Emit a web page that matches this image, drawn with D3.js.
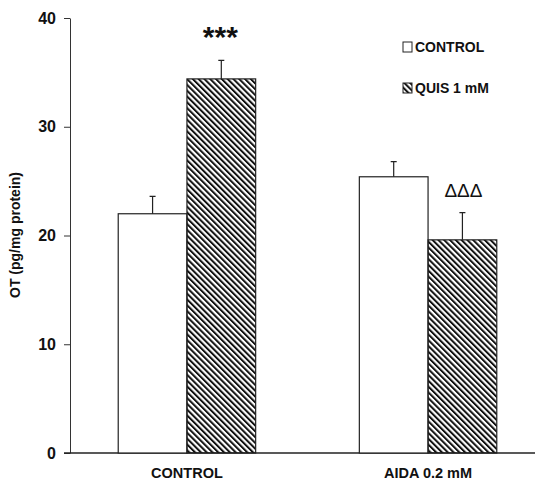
<!DOCTYPE html>
<html>
<head>
<meta charset="utf-8">
<script src="https://cdn.jsdelivr.net/npm/d3@7"></script>
<style>
  body { margin: 0; background: #fff; }
  svg { display: block; font-family: "Liberation Sans", Arial, sans-serif; }
</style>
</head>
<body>
<div id="chart"></div>
<script>
// data
const groups = ['CONTROL', 'AIDA 0.2 mM'];
const seriesNames = ['CONTROL', 'QUIS 1 mM'];
const controlValues = [22.0, 25.4];
const controlErrors = [1.6, 1.4];
const quisValues = [34.4, 19.6];
const quisErrors = [1.7, 2.5];
const yTicks = [0, 10, 20, 30, 40];
const signifMarks = ['***', 'ΔΔΔ'];

const width = 535, height = 482;
const svg = d3.select('#chart').append('svg')
  .attr('width', width)
  .attr('height', height);

// hatch pattern for QUIS bars (lines running top-left to bottom-right)
const defs = svg.append('defs');
defs.append('pattern')
  .attr('id', 'hatch')
  .attr('patternUnits', 'userSpaceOnUse')
  .attr('width', 4.1)
  .attr('height', 4.1)
  .attr('patternTransform', 'rotate(-45)')
  .append('rect')
  .attr('x', 0).attr('y', 0)
  .attr('width', 2).attr('height', 4.1)
  .attr('fill', '#111');

const y = d3.scaleLinear().domain([0, 40]).range([453, 18]);

const x0 = d3.scaleBand()
  .domain(groups)
  .range([70, 545])
  .paddingInner(0.43)
  .paddingOuter(0.2);

const x1 = d3.scaleBand()
  .domain(seriesNames)
  .range([0, x0.bandwidth()]);

const rows = groups.map((g, i) => ({
  group: g,
  bars: [
    { series: seriesNames[0], value: controlValues[i], err: controlErrors[i] },
    { series: seriesNames[1], value: quisValues[i], err: quisErrors[i] }
  ]
}));

// y axis
const yAxis = svg.append('g')
  .attr('transform', 'translate(70,0)')
  .call(d3.axisLeft(y).tickValues(yTicks).tickSize(6).tickSizeOuter(0).tickPadding(8));
yAxis.select('.domain').attr('stroke', '#333');
yAxis.selectAll('.tick line').attr('stroke', '#333');
yAxis.selectAll('.tick text')
  .attr('font-size', 16)
  .attr('font-weight', 'bold')
  .attr('fill', '#111');

// x axis line
svg.append('line')
  .attr('x1', 64).attr('x2', width)
  .attr('y1', y(0)).attr('y2', y(0))
  .attr('stroke', '#222')
  .attr('stroke-width', 1.5);

// bars
const g = svg.selectAll('.grp')
  .data(rows)
  .enter()
  .append('g')
  .attr('class', 'grp')
  .attr('transform', d => `translate(${x0(d.group)},0)`);

g.selectAll('rect')
  .data(d => d.bars)
  .enter()
  .append('rect')
  .attr('x', d => x1(d.series))
  .attr('y', d => y(d.value))
  .attr('width', x1.bandwidth())
  .attr('height', d => y(0) - y(d.value))
  .attr('fill', d => d.series === seriesNames[0] ? '#fff' : 'url(#hatch)')
  .attr('stroke', '#222')
  .attr('stroke-width', 1.2);

// error bars (upper only)
g.selectAll('.err')
  .data(d => d.bars)
  .enter()
  .append('path')
  .attr('class', 'err')
  .attr('d', d => {
    const cx = x1(d.series) + x1.bandwidth() / 2;
    const top = y(d.value + d.err);
    return `M${cx},${y(d.value)}V${top}M${cx - 3},${top}H${cx + 3}`;
  })
  .attr('fill', 'none')
  .attr('stroke', '#222')
  .attr('stroke-width', 1.2);

// significance marks
svg.append('text')
  .attr('x', x0(groups[0]) + x1(seriesNames[1]) + x1.bandwidth() / 2 - 1)
  .attr('y', 47)
  .attr('text-anchor', 'middle')
  .attr('font-size', 30)
  .attr('font-weight', 'bold')
  .attr('fill', '#111')
  .text(signifMarks[0]);

svg.append('text')
  .attr('x', x0(groups[1]) + x1(seriesNames[1]) + x1.bandwidth() / 2 + 1)
  .attr('y', 197)
  .attr('text-anchor', 'middle')
  .attr('font-size', 19)
  .attr('fill', '#111')
  .text(signifMarks[1]);

// x labels
svg.selectAll('.xlab')
  .data(groups)
  .enter()
  .append('text')
  .attr('class', 'xlab')
  .attr('x', d => x0(d) + x0.bandwidth() / 2)
  .attr('y', 478)
  .attr('text-anchor', 'middle')
  .attr('font-size', 14.5)
  .attr('font-weight', 'bold')
  .attr('fill', '#111')
  .text(d => d);

// y label
svg.append('text')
  .attr('transform', 'translate(20,235) rotate(-90)')
  .attr('text-anchor', 'middle')
  .attr('font-size', 14)
  .attr('font-weight', 'bold')
  .attr('fill', '#111')
  .text('OT (pg/mg protein)');

// legend
const legend = svg.selectAll('.leg')
  .data(seriesNames)
  .enter()
  .append('g')
  .attr('class', 'leg')
  .attr('transform', (d, i) => `translate(403,${42 + i * 41})`);

legend.append('rect')
  .attr('width', 9).attr('height', 10)
  .attr('fill', (d, i) => i === 0 ? '#fff' : 'url(#hatch)')
  .attr('stroke', '#222')
  .attr('stroke-width', 1);

legend.append('text')
  .attr('x', 12)
  .attr('y', 10)
  .attr('font-size', 14)
  .attr('font-weight', 'bold')
  .attr('fill', '#111')
  .text(d => d);
</script>
</body>
</html>
